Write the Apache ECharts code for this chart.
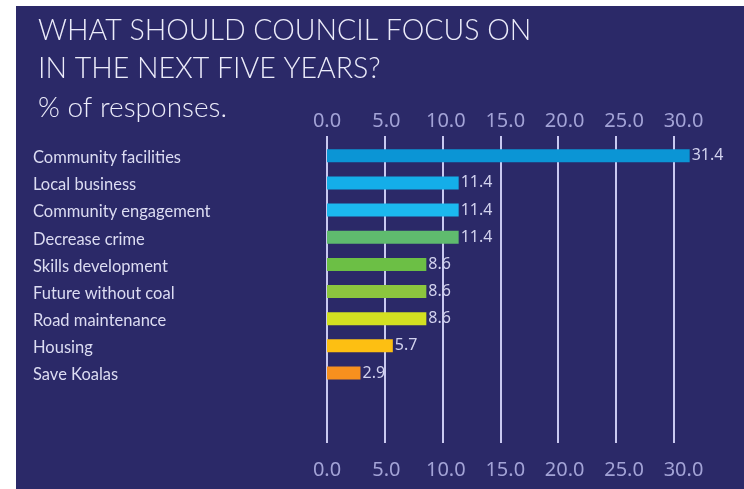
<!DOCTYPE html>
<html>
<head>
<meta charset="utf-8">
<script src="https://cdn.jsdelivr.net/npm/echarts@6/dist/echarts.min.js"></script>
<style>
html,body{margin:0;padding:0;background:#ffffff;}
#wrap{position:absolute;left:16px;top:6px;width:728px;height:483px;background:#2b2968;}
#chart{position:absolute;left:0;top:0;width:744px;height:489px;}
</style>
</head>
<body>
<div id="wrap"></div>
<div id="chart"></div>
<script>
const titleLines = ['WHAT SHOULD COUNCIL FOCUS ON', 'IN THE NEXT FIVE YEARS?'];
const subtitle = '% of responses.';
const categories = ['Community facilities','Local business','Community engagement','Decrease crime','Skills development','Future without coal','Road maintenance','Housing','Save Koalas'];
const values = [31.4, 11.4, 11.4, 11.4, 8.6, 8.6, 8.6, 5.7, 2.9];
const barColors = ['#0b95d5','#14aee9','#1bb8ef','#5fbb6e','#6cbf45','#8cc63e','#d3e021','#fdbf12','#f7901e'];
const axisMin = 0, axisMax = 30, axisStep = 5;

const chart = echarts.init(document.getElementById('chart'), null, {renderer:'canvas'});
const labelColor = '#a3a3d6';
const axisFont = 'Noto Sans';
const tickLabel = {color:labelColor, fontFamily:axisFont, fontSize:20, formatter:v=>v.toFixed(1)};
chart.setOption({
  backgroundColor: 'transparent',
  title: [
    {text: titleLines.join('\n'), left: 33, top: 7,
     textStyle:{color:'#ececfa', fontFamily:'Lato', fontWeight:300, fontSize:28.5, lineHeight:38}},
    {text: subtitle, left: 33, top: 89,
     textStyle:{color:'#ececfa', fontFamily:'Lato', fontWeight:300, fontSize:28}}
  ],
  grid: [
    {left: 327, right: 70.5, top: 136, bottom: 46},
    {left: 327, right: 70.5, top: 142.2, bottom: 102.4},
    {left: 327, right: 60.5, top: 136, bottom: 46}
  ],
  xAxis: [
    {type:'value', gridIndex:0, min:axisMin, max:axisMax, interval:axisStep,
     axisLine:{show:false}, axisTick:{show:false}, axisLabel:{show:false},
     splitLine:{show:true, lineStyle:{color:'#c9c9f0', width:2}}},
    {type:'value', gridIndex:1, min:axisMin, max:axisMax, show:false},
    {type:'value', gridIndex:2, position:'top', min:axisMin, max:axisMax, interval:axisStep,
     axisLine:{show:false}, axisTick:{show:false}, splitLine:{show:false},
     axisLabel:Object.assign({margin:5}, tickLabel)},
    {type:'value', gridIndex:2, position:'bottom', min:axisMin, max:axisMax, interval:axisStep,
     axisLine:{show:false}, axisTick:{show:false}, splitLine:{show:false},
     axisLabel:Object.assign({margin:17}, tickLabel)}
  ],
  yAxis: [
    {type:'category', gridIndex:0, show:false, data:['']},
    {type:'category', gridIndex:1, inverse:true, data:categories,
     axisLine:{show:false}, axisTick:{show:false}, splitLine:{show:false},
     axisLabel:{color:'#dcdcf2', fontFamily:'Lato', fontSize:16.5, align:'left', margin:294,
       verticalAlign:'top', padding:[-7,0,0,0], lineHeight:18}},
    {type:'category', gridIndex:2, show:false, data:['']}
  ],
  series: [{
    type:'bar', xAxisIndex:1, yAxisIndex:1, barWidth:13, clip:false,
    data: values.map((v,i)=>({value:v, itemStyle:{color:barColors[i]}})),
    label:{show:true, position:'right', distance:2, color:'#d2d2ee', fontFamily:axisFont, fontSize:16,
      formatter:p=>p.value.toFixed(1)},
    animation:false
  }],
  animation:false
});
</script>
</body>
</html>
